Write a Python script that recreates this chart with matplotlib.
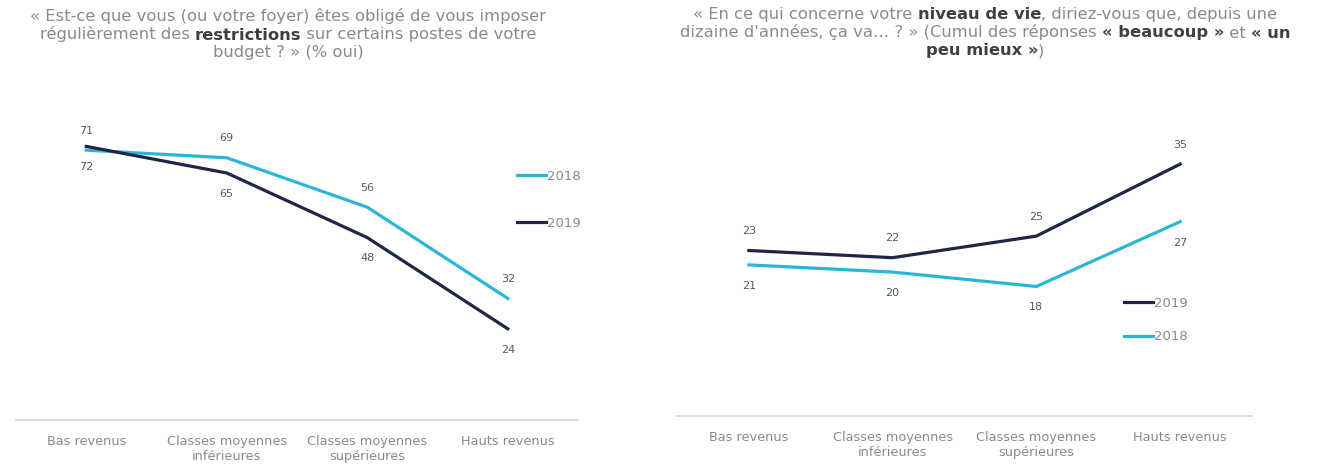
import matplotlib
matplotlib.use("Agg")
import matplotlib.pyplot as plt
from matplotlib.offsetbox import TextArea, HPacker, VPacker, AnchoredOffsetbox

# categories shared by both panels
categories = ["Bas revenus", "Classes moyennes\ninférieures",
              "Classes moyennes\nsupérieures", "Hauts revenus"]

# left panel: restrictions sur le budget (% oui)
restr_2018 = [71, 69, 56, 32]
restr_2019 = [72, 65, 48, 24]

# right panel: niveau de vie en hausse (beaucoup + un peu mieux)
vie_2019 = [23, 22, 25, 35]
vie_2018 = [21, 20, 18, 27]

LIGHT = "#2BB5D8"
DARK = "#1E2747"
GREY = "#8a8a8a"
BOLDGREY = "#404040"
LABELGREY = "#595959"

plt.rcParams["font.family"] = "DejaVu Sans"

fig = plt.figure(figsize=(13.35, 4.74), dpi=100)
W, H = 1335, 474


def px_axes(x0, x1, ytop, ybot):
    return fig.add_axes([x0 / W, 1 - ybot / H, (x1 - x0) / W, (ybot - ytop) / H])


def style(ax, ymax):
    ax.set_xlim(-0.5, 3.5)
    ax.set_ylim(0, ymax)
    for s in ["top", "right", "left"]:
        ax.spines[s].set_visible(False)
    ax.spines["bottom"].set_color("#d9d9d9")
    ax.spines["bottom"].set_linewidth(1.3)
    ax.set_yticks([])
    ax.set_xticks(range(len(categories)))
    ax.set_xticklabels(categories, fontsize=9.3, color=GREY, linespacing=1.2)
    ax.tick_params(axis="x", length=0, pad=11)


def label(ax, xs, ys, above):
    for x, y in zip(xs, ys):
        off = 14 if above else -15
        ax.annotate(str(y), (x, y), xytext=(0, off), textcoords="offset points",
                    ha="center", va="center", fontsize=8, color=LABELGREY)


def title(lines, xc, ytop):
    rows = []
    for parts in lines:
        boxes = [TextArea(txt, textprops=dict(fontsize=11.8,
                                              color=BOLDGREY if bold else GREY,
                                              fontweight="bold" if bold else "normal"))
                 for txt, bold in parts]
        rows.append(HPacker(children=boxes, align="baseline", pad=0, sep=0))
    box = VPacker(children=rows, align="center", pad=0, sep=1.8)
    anch = AnchoredOffsetbox(loc="upper center", child=box, pad=0, borderpad=0,
                             frameon=False, bbox_to_anchor=(xc / W, 1 - ytop / H),
                             bbox_transform=fig.transFigure)
    fig.add_artist(anch)


x = list(range(len(categories)))

# left chart
ax1 = px_axes(16, 578, 108, 420)
style(ax1, 82.1)
l18, = ax1.plot(x, restr_2018, color=LIGHT, lw=2.3, label="2018")
l19, = ax1.plot(x, restr_2019, color=DARK, lw=2.3, label="2019")
label(ax1, x, restr_2018, True)
label(ax1, x, restr_2019, False)
ax1.legend(handles=[l18, l19], loc="upper left", bbox_to_anchor=(517 / W, 1 - 170 / H),
           bbox_transform=fig.transFigure, frameon=False, fontsize=9.5,
           handlelength=2.2, handletextpad=0.1, labelspacing=2.55,
           borderpad=0, borderaxespad=0, labelcolor=GREY)

# right chart
ax2 = px_axes(677, 1252, 108, 416)
style(ax2, 42.8)
r19, = ax2.plot(x, vie_2019, color=DARK, lw=2.3, label="2019")
r18, = ax2.plot(x, vie_2018, color=LIGHT, lw=2.3, label="2018")
label(ax2, x, vie_2019, True)
label(ax2, x, vie_2018, False)
ax2.legend(handles=[r19, r18], loc="upper left", bbox_to_anchor=(1124 / W, 1 - 297 / H),
           bbox_transform=fig.transFigure, frameon=False, fontsize=9.5,
           handlelength=2.2, handletextpad=0.1, labelspacing=1.55,
           borderpad=0, borderaxespad=0, labelcolor=GREY)

title([
    [("« Est-ce que vous (ou votre foyer) êtes obligé de vous imposer", False)],
    [("régulièrement des ", False), ("restrictions", True),
     (" sur certains postes de votre", False)],
    [("budget ? » (% oui)", False)],
], 288, 8)

title([
    [("« En ce qui concerne votre ", False), ("niveau de vie", True),
     (", diriez-vous que, depuis une", False)],
    [("dizaine d'années, ça va… ? » (Cumul des réponses ", False),
     ("« beaucoup »", True), (" et ", False), ("« un", True)],
    [("peu mieux »", True), (")", False)],
], 985, 7)

fig.savefig("out.png", dpi=100, facecolor="white")
